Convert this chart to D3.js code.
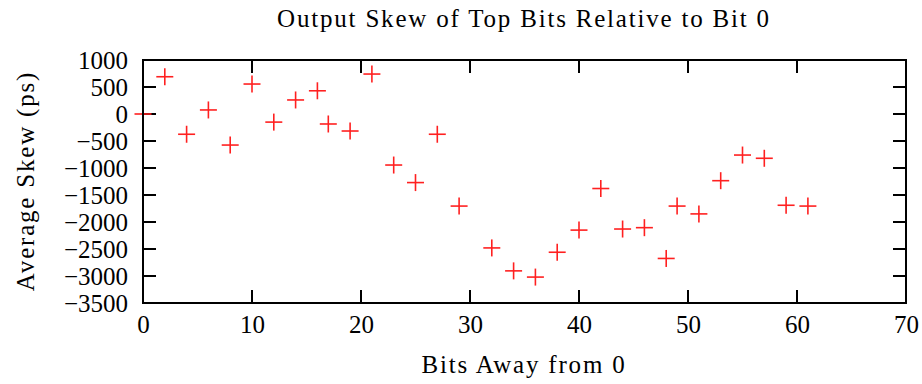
<!DOCTYPE html>
<html>
<head>
  <meta charset="utf-8">
  <style>
    body { margin: 0; background: #fff; }
    svg text { font-family: "Liberation Serif", "DejaVu Serif", serif; fill: #000; }
    .lbl { letter-spacing: 1.8px; }
    .frame { fill: none; stroke: #000; stroke-width: 2; }
    .tick line { stroke: #000; stroke-width: 2; }
    .domain { display: none; }
    .pt line { stroke: #ff2020; stroke-width: 1.6; }
  </style>
</head>
<body>
  <svg width="922" height="384"></svg>
  <script src="https://d3js.org/d3.v7.min.js"></script>
  <script>
    // bit distance from bit 0, and measured average skew (ps)
    var bits = [0, 2, 4, 6, 8, 10, 12, 14, 16, 17, 19, 21, 23, 25, 27, 29,
                32, 34, 36, 38, 40, 42, 44, 46, 48, 49, 51, 53, 55, 57, 59, 61];
    var skew = [0, 690, -375, 75, -575, 555, -150, 260, 430, -185, -315, 740,
                -945, -1270, -375, -1705, -2480, -2905, -3020, -2560, -2150, -1380,
                -2130, -2105, -2675, -1705, -1850, -1235, -760, -820, -1690, -1705];
    var xTicks = [0, 10, 20, 30, 40, 50, 60, 70];
    var yTicks = [1000, 500, 0, -500, -1000, -1500, -2000, -2500, -3000, -3500];

    var svg = d3.select("svg"),
        margin = {top: 60, right: 16, bottom: 81, left: 143},
        width = +svg.attr("width") - margin.left - margin.right,
        height = +svg.attr("height") - margin.top - margin.bottom,
        g = svg.append("g").attr("transform", "translate(" + margin.left + "," + margin.top + ")");

    var x = d3.scaleLinear().domain([0, 70]).range([0, width]);
    var y = d3.scaleLinear().domain([-3500, 1000]).range([height, 0]);
    var tk = 13;

    // tick labels
    var ax = g.append("g")
      .attr("transform", "translate(0," + height + ")")
      .call(d3.axisBottom(x).tickValues(xTicks).tickSize(0).tickPadding(12).tickFormat(d3.format("d")));
    ax.selectAll("text").attr("font-size", 25).attr("font-family", null);

    var ay = g.append("g")
      .call(d3.axisLeft(y).tickValues(yTicks).tickSize(0).tickPadding(15)
        .tickFormat(function(d) { return d < 0 ? "\u2212" + (-d) : d; }));
    ay.selectAll("text").attr("font-size", 25).attr("font-family", null);

    // mirrored inner ticks
    var ticks = g.append("g").attr("class", "tick");
    xTicks.slice(1, -1).forEach(function(v) {
      ticks.append("line").attr("x1", x(v)).attr("x2", x(v)).attr("y1", height).attr("y2", height - tk);
      ticks.append("line").attr("x1", x(v)).attr("x2", x(v)).attr("y1", 0).attr("y2", tk);
    });
    yTicks.slice(1, -1).forEach(function(v) {
      ticks.append("line").attr("x1", 0).attr("x2", tk).attr("y1", y(v)).attr("y2", y(v));
      ticks.append("line").attr("x1", width).attr("x2", width - tk).attr("y1", y(v)).attr("y2", y(v));
    });

    // points as plus marks
    var s = 8.5;
    var pt = g.append("g").attr("class", "pt").selectAll("g")
      .data(bits.map(function(b, i) { return {b: b, v: skew[i]}; }))
      .enter().append("g")
      .attr("transform", function(d) { return "translate(" + x(d.b) + "," + y(d.v) + ")"; });
    pt.append("line").attr("x1", -s).attr("x2", s);
    pt.append("line").attr("y1", -s).attr("y2", s);

    g.append("rect").attr("class", "frame").attr("width", width).attr("height", height);

    svg.append("text").attr("class", "lbl")
      .attr("x", 524).attr("y", 27)
      .attr("text-anchor", "middle").attr("font-size", 25)
      .text("Output Skew of Top Bits Relative to Bit 0");

    svg.append("text").attr("class", "lbl")
      .attr("x", 524).attr("y", 373)
      .attr("text-anchor", "middle").attr("font-size", 25)
      .text("Bits Away from 0");

    svg.append("text").attr("class", "lbl")
      .attr("transform", "translate(34,181) rotate(-90)")
      .attr("text-anchor", "middle").attr("font-size", 25)
      .text("Average Skew (ps)");
  </script>
</body>
</html>
